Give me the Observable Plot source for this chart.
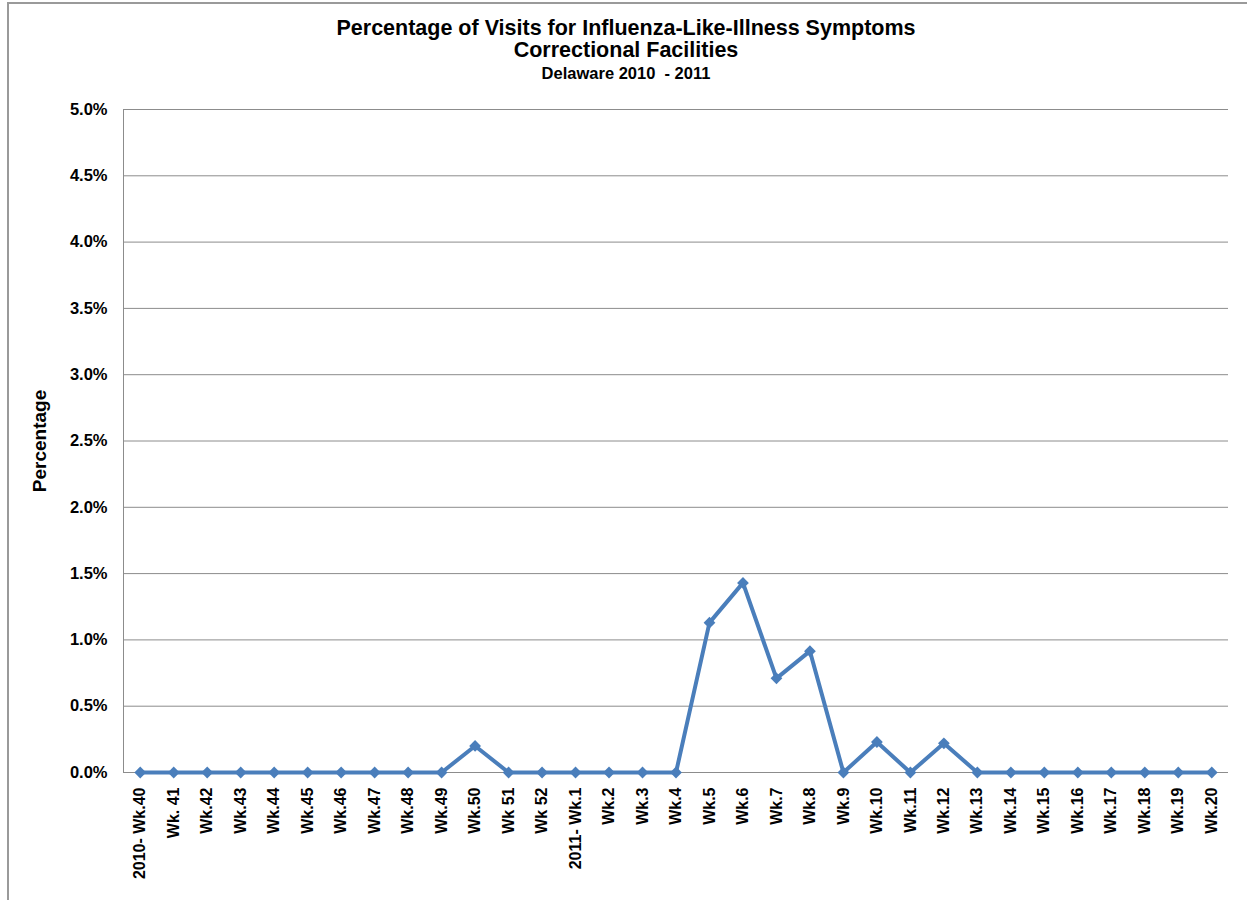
<!DOCTYPE html>
<html><head><meta charset="utf-8">
<script src="https://cdn.jsdelivr.net/npm/d3@7"></script>
<script src="https://cdn.jsdelivr.net/npm/@observablehq/plot@0.6"></script>
<style>
body{margin:0;background:#fff;font-family:"Liberation Sans",Arial,sans-serif;}
#frame{position:absolute;left:7px;top:2px;width:1240px;height:898px;border-left:2px solid #9a9a9a;border-top:2px solid #9a9a9a;box-sizing:border-box;}
.t{position:absolute;left:0;width:1252px;text-align:center;font-weight:bold;color:#000;white-space:nowrap;line-height:1;}
#t1{top:18px;font-size:21.5px;}
#t2{top:40px;font-size:21.5px;}
#t3{top:65px;font-size:16.5px;}
#chart{position:absolute;left:0;top:95px;}
#chart g[aria-label="y-axis label"]{font-size:19px;}
#chart g[aria-label="y-axis tick label"]{font-size:16.5px;}
#chart g[aria-label="x-axis tick label"]{font-size:16px;}
</style>
</head><body>
<div id="frame"></div>
<div class="t" id="t1">Percentage of Visits for Influenza-Like-Illness Symptoms</div>
<div class="t" id="t2">Correctional Facilities</div>
<div class="t" id="t3">Delaware 2010&nbsp; - 2011</div>
<div id="chart"></div>
<script>
const weeks = ["2010- Wk.40","Wk. 41","Wk.42","Wk.43","Wk.44","Wk.45","Wk.46","Wk.47","Wk.48","Wk.49","Wk.50","Wk 51","Wk 52",
  "2011- Wk.1","Wk.2","Wk.3","Wk.4","Wk.5","Wk.6","Wk.7","Wk.8","Wk.9","Wk.10","Wk.11","Wk.12","Wk.13","Wk.14","Wk.15","Wk.16","Wk.17","Wk.18","Wk.19","Wk.20"];
const percents = [0,0,0,0,0,0,0,0,0,0,0.20,0,0,
  0,0,0,0,1.13,1.43,0.71,0.915,0,0.23,0,0.22,0,0,0,0,0,0,0,0];
const yTicks = [0,0.5,1,1.5,2,2.5,3,3.5,4,4.5,5];

const data = weeks.map((w,i)=>({week:w, value:percents[i]}));
const blue = "#4a7ebb";
const grid = "#8c8c8c";

const chart = Plot.plot({
  width:1247, height:805,
  marginLeft:123, marginRight:19, marginTop:14, marginBottom:128,
  style:{fontFamily:'"Liberation Sans", Arial, sans-serif', fontWeight:"bold", fontSize:"16px", color:"#000", background:"transparent"},
  x:{type:"band", domain:weeks, padding:0, round:false},
  y:{domain:[0,5]},
  marks:[
    Plot.gridY(yTicks,{stroke:grid, strokeOpacity:1, strokeWidth:1}),
    Plot.frame({anchor:"left", stroke:grid, strokeWidth:1}),
    Plot.axisY(yTicks,{tickSize:0, tickPadding:16, tickFormat:d=>d.toFixed(1)+"%", label:"Percentage", labelArrow:"none", labelAnchor:"center", labelOffset:91}),
    Plot.axisX({tickSize:0, tickPadding:15, tickRotate:-90, label:null}),
    Plot.line(data,{x:"week", y:"value", stroke:blue, strokeWidth:4}),
    Plot.dot(data,{x:"week", y:"value", symbol:"diamond2", r:5.3, fill:blue, stroke:"none"})
  ]
});
document.getElementById("chart").appendChild(chart);
</script>
</body></html>
